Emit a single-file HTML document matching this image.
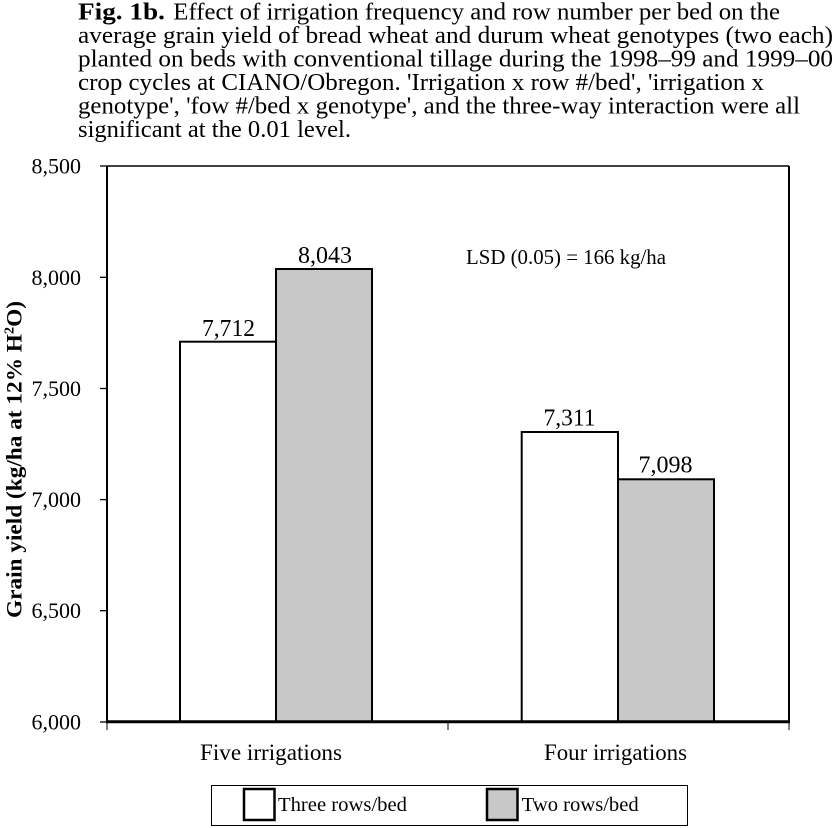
<!DOCTYPE html>
<html>
<head>
<meta charset="utf-8">
<style>
  html, body { margin: 0; padding: 0; background: #ffffff; }
  svg { display: block; }
  text { font-family: "Liberation Serif", "Times New Roman", serif; fill: #000; }
</style>
</head>
<body>
<svg width="836" height="828" viewBox="0 0 836 828" xmlns="http://www.w3.org/2000/svg" font-family="'Liberation Serif', 'Times New Roman', serif">
  <rect x="0" y="0" width="836" height="828" fill="#ffffff"/>

  <!-- Title -->
  <text x="78" y="19.5" font-size="24.5" font-weight="bold" textLength="87" lengthAdjust="spacingAndGlyphs">Fig. 1b.</text>
  <text x="173.3" y="19.5" font-size="24.5" textLength="606.7" lengthAdjust="spacingAndGlyphs">Effect of irrigation frequency and row number per bed on the</text>
  <text x="78" y="43" font-size="24.5" textLength="755" lengthAdjust="spacingAndGlyphs">average grain yield of bread wheat and durum wheat genotypes (two each)</text>
  <text x="78" y="66.5" font-size="24.5" textLength="755" lengthAdjust="spacingAndGlyphs">planted on beds with conventional tillage during the 1998–99 and 1999–00</text>
  <text x="78" y="90" font-size="24.5" textLength="686" lengthAdjust="spacingAndGlyphs">crop cycles at CIANO/Obregon.  'Irrigation x row #/bed', 'irrigation x</text>
  <text x="78" y="113.5" font-size="24.5" textLength="722" lengthAdjust="spacingAndGlyphs">genotype', 'fow #/bed x genotype', and the three-way interaction were all</text>
  <text x="78" y="137" font-size="24.5" textLength="273" lengthAdjust="spacingAndGlyphs">significant at the 0.01 level.</text>

  <!-- Y axis label -->
  <text transform="translate(21.5,459.5) rotate(-90)" text-anchor="middle" font-size="22.5" font-weight="bold" textLength="317" lengthAdjust="spacingAndGlyphs">Grain yield (kg/ha at 12% H<tspan font-size="14" dy="-8">2</tspan><tspan dy="8">O)</tspan></text>

  <!-- Y tick labels -->
  <text x="81" y="173.5" font-size="22" text-anchor="end" textLength="49.5" lengthAdjust="spacingAndGlyphs">8,500</text>
  <text x="81" y="284.8" font-size="22" text-anchor="end" textLength="49.5" lengthAdjust="spacingAndGlyphs">8,000</text>
  <text x="81" y="396" font-size="22" text-anchor="end" textLength="49.5" lengthAdjust="spacingAndGlyphs">7,500</text>
  <text x="81" y="507.1" font-size="22" text-anchor="end" textLength="49.5" lengthAdjust="spacingAndGlyphs">7,000</text>
  <text x="81" y="618.2" font-size="22" text-anchor="end" textLength="49.5" lengthAdjust="spacingAndGlyphs">6,500</text>
  <text x="81" y="729.3" font-size="22" text-anchor="end" textLength="49.5" lengthAdjust="spacingAndGlyphs">6,000</text>

  <!-- Y ticks -->
  <g stroke="#000" stroke-width="1.3">
    <line x1="100" y1="166" x2="107" y2="166"/>
    <line x1="100" y1="277.3" x2="107" y2="277.3"/>
    <line x1="100" y1="388.5" x2="107" y2="388.5"/>
    <line x1="100" y1="499.6" x2="107" y2="499.6"/>
    <line x1="100" y1="610.7" x2="107" y2="610.7"/>
    <line x1="100" y1="722" x2="107" y2="722"/>
  </g>

  <!-- Bars -->
  <g stroke="#000" stroke-width="2">
    <rect x="180" y="341.7" width="96" height="380.3" fill="#ffffff"/>
    <rect x="276" y="269" width="96" height="453" fill="#c8c8c8"/>
    <rect x="521.7" y="432" width="96.3" height="290" fill="#ffffff"/>
    <rect x="618" y="479.3" width="96" height="242.7" fill="#c8c8c8"/>
  </g>

  <!-- Plot frame -->
  <g stroke="#000" fill="none">
    <line x1="107" y1="166" x2="789" y2="166" stroke-width="1.5"/>
    <line x1="789" y1="166" x2="789" y2="722" stroke-width="2"/>
    <line x1="107" y1="166" x2="107" y2="722" stroke-width="2"/>
    <line x1="106" y1="721.8" x2="790" y2="721.8" stroke-width="3"/>
    <line x1="107" y1="722" x2="107" y2="730" stroke-width="1"/>
    <line x1="448" y1="722" x2="448" y2="730" stroke-width="1"/>
    <line x1="789" y1="722" x2="789" y2="730" stroke-width="1"/>
  </g>

  <!-- Value labels -->
  <text x="228.5" y="336" font-size="24" text-anchor="middle" textLength="53" lengthAdjust="spacingAndGlyphs">7,712</text>
  <text x="325" y="263" font-size="24" text-anchor="middle" textLength="54" lengthAdjust="spacingAndGlyphs">8,043</text>
  <text x="569.5" y="425.5" font-size="24" text-anchor="middle" textLength="52" lengthAdjust="spacingAndGlyphs">7,311</text>
  <text x="665.5" y="472.7" font-size="24" text-anchor="middle" textLength="54" lengthAdjust="spacingAndGlyphs">7,098</text>

  <!-- LSD -->
  <text x="466" y="264" font-size="21" textLength="200" lengthAdjust="spacingAndGlyphs">LSD (0.05) = 166 kg/ha</text>

  <!-- Category labels -->
  <text x="200" y="760" font-size="23" textLength="142" lengthAdjust="spacingAndGlyphs">Five irrigations</text>
  <text x="544" y="760" font-size="23" textLength="143" lengthAdjust="spacingAndGlyphs">Four irrigations</text>

  <!-- Legend -->
  <rect x="211.5" y="785.5" width="476" height="40" fill="#ffffff" stroke="#000" stroke-width="1"/>
  <rect x="244" y="789" width="30.5" height="31" fill="#ffffff" stroke="#000" stroke-width="2.5"/>
  <rect x="487" y="789" width="30.5" height="31" fill="#c8c8c8" stroke="#000" stroke-width="2.5"/>
  <text x="278" y="811" font-size="20.5" textLength="129" lengthAdjust="spacingAndGlyphs">Three rows/bed</text>
  <text x="521.7" y="811" font-size="20.5" textLength="117" lengthAdjust="spacingAndGlyphs">Two rows/bed</text>
</svg>
</body>
</html>
